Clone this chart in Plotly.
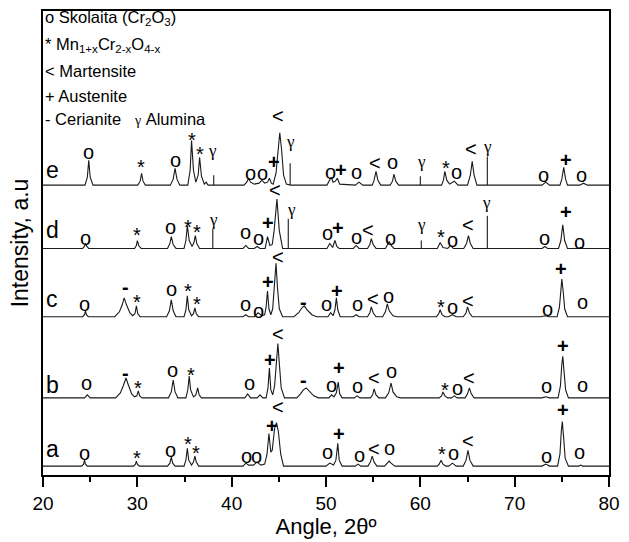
import plotly.graph_objects as go

# ---------------- data ----------------
# (2theta, intensity above own baseline) vertices of each pattern
PATTERN_E = [(20,0),(24.45,0),(24.7,8),(24.85,25),(25.0,8),(25.3,0),
    (30.05,0),(30.3,4),(30.45,12),(30.6,4),(30.85,0),
    (33.5,0),(33.8,6),(34.0,17),(34.2,6),(34.5,0),
    (35.35,0),(35.6,15),(35.75,45),(35.95,15),(36.2,3),(36.45,10),(36.6,28),(36.8,9),(37.1,1),(37.3,3),(37.5,0),
    (38.1,0),(38.1,10),(38.1,0),
    (41.3,0),(41.6,3),(41.8,7),(42.0,3),(42.4,1),(42.9,2),(43.2,5),(43.5,2),(43.8,3),(44.0,7),(44.2,2),(44.4,1),
    (44.7,12),(44.9,35),(45.1,53),(45.3,35),(45.5,10),(45.8,1),
    (46.2,0),(46.2,22),(46.2,0),
    (50.1,0),(50.4,6),(50.55,8),(50.75,3),(51.0,4),(51.2,7),(51.45,1),
    (53.1,0),(53.5,3),(53.9,0),
    (54.9,0),(55.1,5),(55.3,14),(55.5,5),(55.8,0),
    (56.8,0),(57.05,4),(57.2,11),(57.4,4),(57.7,0),
    (60.0,0),(60.0,9),(60.0,0),
    (62.25,0),(62.45,5),(62.6,14),(62.8,5),(63.1,1),(63.6,4),(64.0,0),
    (65.0,0),(65.3,10),(65.5,24),(65.7,10),(66.0,0),
    (67.1,0),(67.1,29),(67.1,0),
    (72.9,0),(73.3,3),(73.7,0),
    (74.8,0),(75.0,6),(75.2,18),(75.4,6),(75.6,0),
    (76.9,0),(77.3,2),(77.7,0),(80,0)]

PATTERN_D = [(20,0),(24.2,0),(24.4,2),(24.5,5),(24.65,2),(24.85,0),
    (29.7,0),(29.9,3),(30.0,8),(30.15,3),(30.4,0),
    (33.2,0),(33.45,5),(33.6,12),(33.8,4),(34.1,0),
    (34.95,0),(35.15,8),(35.3,23),(35.5,8),(35.8,2),(36.0,6),(36.15,13),(36.3,5),(36.6,0),
    (38.0,0),(38.0,20),(38.0,0),
    (41.2,0),(41.5,3),(41.8,0),(42.4,0),(42.7,2),(43.0,0),
    (43.55,0),(43.8,12),(44.05,3),(44.3,4),(44.5,18),(44.8,50),(45.05,18),(45.4,0),
    (46.0,0),(46.0,30),(46.0,0),
    (50.1,0),(50.4,5),(50.7,1),(50.95,8),(51.15,2),(51.4,0),
    (52.9,0),(53.2,3),(53.5,0),
    (54.4,0),(54.65,4),(54.8,10),(55.0,4),(55.3,0),
    (56.3,0),(56.5,3),(56.7,7),(56.9,3),(57.2,0),
    (60.1,0),(60.1,8),(60.1,0),
    (61.8,0),(62.1,6),(62.4,1),(62.9,0),(63.2,3),(63.5,0),
    (64.6,0),(64.9,5),(65.1,13),(65.3,5),(65.6,0),
    (67.1,0),(67.1,33),(67.1,0),
    (72.9,0),(73.2,2),(73.5,0),
    (74.65,0),(74.9,8),(75.1,24),(75.3,8),(75.6,0),
    (76.8,0),(77.0,1),(77.2,0),(80,0)]

PATTERN_C = [(20,0),(24.2,0),(24.4,2),(24.5,6),(24.6,2),(24.8,0),
    (27.6,0),(28.1,5),(28.4,12),(28.6,19),(28.85,12),(29.2,4),(29.5,1),(29.75,3),(29.9,11),(30.05,3),(30.3,0),
    (33.1,0),(33.4,6),(33.6,17),(33.8,6),(34.1,0),
    (34.95,0),(35.15,7),(35.3,21),(35.45,7),(35.75,1),(35.95,3),(36.1,9),(36.25,3),(36.5,0),
    (41.2,0),(41.5,2),(41.8,0),(42.4,0),(42.8,4),(43.2,1),
    (43.5,2),(43.65,10),(43.8,26),(43.95,8),(44.15,2),(44.35,8),(44.55,30),(44.7,54),(44.85,30),(45.05,8),(45.4,0),
    (46.6,0),(47.1,4),(47.45,9),(47.7,11),(48.0,7),(48.5,2),(49.0,0),
    (50.2,0),(50.5,4),(50.75,1),(50.95,7),(51.1,19),(51.25,7),(51.5,0),
    (52.9,0),(53.2,2),(53.5,0),
    (54.4,0),(54.65,4),(54.8,10),(55.0,4),(55.3,0),
    (56.0,0),(56.3,5),(56.5,13),(56.7,6),(57.1,1),(57.5,0),
    (61.7,0),(61.95,3),(62.1,7),(62.3,2),(62.6,0),(63.0,0),(63.4,2),(63.8,0),
    (64.55,0),(64.85,4),(65.0,10),(65.2,4),(65.5,0),
    (72.8,0),(73.2,1),(73.6,0),
    (74.5,0),(74.75,10),(74.9,30),(75.0,38),(75.15,25),(75.3,8),(75.6,0),(80,0)]

PATTERN_B = [(20,0),(24.4,0),(24.7,3),(25.0,0),
    (27.7,0),(28.2,5),(28.5,12),(28.8,20),(29.05,13),(29.4,4),(29.7,1),(29.95,2),(30.1,7),(30.25,2),(30.5,0),
    (33.3,0),(33.6,6),(33.8,18),(34.0,6),(34.3,0),
    (35.15,0),(35.35,8),(35.5,22),(35.65,8),(35.95,1),(36.2,3),(36.4,10),(36.55,3),(36.8,0),
    (41.4,0),(41.7,4),(42.0,0),(42.7,0),(43.0,3),(43.3,0),
    (43.65,0),(43.85,10),(44.0,30),(44.15,8),(44.35,3),(44.55,12),(44.75,35),(44.9,55),(45.05,35),(45.25,10),(45.6,0),
    (46.9,0),(47.3,4),(47.6,8),(47.9,10),(48.2,7),(48.7,2),(49.2,0),
    (50.3,0),(50.6,3),(50.85,1),(51.1,5),(51.3,16),(51.45,4),(51.7,0),
    (53.0,0),(53.3,2),(53.6,0),
    (54.7,0),(54.95,3),(55.1,9),(55.3,3),(55.6,0),
    (56.3,0),(56.65,5),(56.9,15),(57.1,6),(57.5,1),(57.9,0),
    (62.0,0),(62.25,2),(62.4,6),(62.6,2),(62.9,0),(63.3,0),(63.6,2),(63.9,0),
    (64.75,0),(65.0,4),(65.2,10),(65.4,4),(65.7,0),
    (72.9,0),(73.3,1),(73.7,0),
    (74.6,0),(74.85,12),(75.0,34),(75.1,42),(75.25,25),(75.4,8),(75.7,0),(80,0)]

PATTERN_A = [(20,0),(24.1,0),(24.3,2),(24.4,6),(24.5,2),(24.7,0),
    (29.6,0),(29.8,2),(29.9,5),(30.0,2),(30.2,0),
    (33.2,0),(33.45,3),(33.6,9),(33.75,3),(34.0,0),
    (34.95,0),(35.15,6),(35.3,18),(35.45,6),(35.75,1),(35.95,4),(36.1,10),(36.25,4),(36.5,0),
    (41.2,0),(41.5,3),(41.8,1),(42.3,1),(42.7,4),(43.1,1),
    (43.5,2),(43.75,12),(43.95,33),(44.15,14),(44.3,16),(44.55,38),(44.75,44),(44.95,35),(45.2,12),(45.5,0),
    (50.0,0),(50.4,3),(50.8,1),(51.05,6),(51.25,23),(51.4,6),(51.7,0),
    (53.1,0),(53.4,2),(53.7,0),
    (54.45,0),(54.7,4),(54.9,10),(55.1,4),(55.4,0),
    (56.2,0),(56.5,3),(56.7,5),(56.9,3),(57.3,0),
    (61.8,0),(62.0,2),(62.2,6),(62.4,2),(62.7,0),(63.0,0),(63.4,3),(63.8,0),
    (64.55,0),(64.85,6),(65.05,16),(65.25,6),(65.6,0),
    (72.9,0),(73.3,2),(73.7,0),
    (74.55,0),(74.8,12),(74.95,36),(75.05,45),(75.2,28),(75.35,8),(75.7,0),
    (76.8,0),(77.0,1),(77.2,0),(80,0)]

# phase markers: (2theta, height above own baseline, symbol)
MARKS_E = [(24.87,33,'o'),(30.39,23,'*'),(34.0,25,'o'),(35.76,51,'*'),(36.63,37,'*'),(37.93,33,'γ'),
    (41.97,12,'o'),(43.3,12,'o'),(44.5,23,'+'),(44.87,70,'<'),(46.28,42,'γ'),(50.49,13,'o'),
    (51.55,15,'+'),(53.2,13,'o'),(55.19,22,'<'),(57.05,23,'o'),(60.1,22,'γ'),(62.7,22,'*'),
    (63.82,13,'o'),(65.37,37,'<'),(67.12,37,'γ'),(73.08,10,'o'),(75.4,25,'+'),(77.05,10,'o')]
MARKS_D = [(24.53,11,'o'),(29.97,19,'*'),(33.55,22,'o'),(35.4,27,'*'),(36.35,22,'*'),(38.03,27,'γ'),
    (41.44,17,'o'),(42.84,11,'o'),(43.82,26,'+'),(44.6,59,'<'),(46.35,37,'γ'),(50.2,16,'o'),
    (51.26,21,'+'),(53.2,12,'o'),(54.5,19,'<'),(56.8,11,'o'),(60.1,22,'γ'),(62.2,17,'*'),
    (63.37,9,'o'),(65.05,24,'<'),(67.05,44,'γ'),(73.19,11,'o'),(75.47,37,'+'),(76.87,7,'o')]
MARKS_C = [(24.42,13,'o'),(28.74,30,'-'),(29.93,20,'*'),(33.6,28,'o'),(35.4,31,'*'),(36.28,18,'*'),
    (41.5,13,'o'),(42.84,6,'o'),(43.9,35,'+'),(44.87,60,'<'),(47.63,15,'-'),(50.03,13,'o'),
    (51.2,26,'+'),(53.3,13,'o'),(54.95,18,'<'),(56.6,21,'o'),(62.2,15,'*'),(63.37,10,'o'),
    (65.05,16,'<'),(73.44,8,'o'),(74.95,48,'+'),(77.16,15,'o')]
MARKS_B = [(24.6,15,'o'),(28.74,25,'-'),(30.1,15,'*'),(33.7,28,'o'),(35.65,28,'*'),(41.86,15,'o'),
    (44.07,38,'+'),(44.95,65,'<'),(47.58,18,'-'),(50.56,13,'o'),(51.33,30,'+'),(53.3,12,'o'),
    (55.05,20,'<'),(56.95,27,'o'),(62.6,13,'*'),(63.9,10,'o'),(65.2,20,'<'),(73.37,12,'o'),
    (75.1,52,'+'),(77.16,13,'o')]
MARKS_A = [(24.42,13,'o'),(29.97,13,'*'),(33.55,16,'o'),(35.4,27,'*'),(36.18,18,'*'),(41.6,10,'o'),
    (42.66,10,'o'),(44.25,41,'+'),(44.95,60,'<'),(50.2,14,'o'),(51.33,32,'+'),(53.55,11,'o'),
    (55.1,17,'<'),(56.7,18,'o'),(62.3,17,'*'),(63.55,13,'o'),(65.1,25,'<'),(73.37,10,'o'),
    (75.1,57,'+'),(76.87,14,'o')]

SAMPLE_NAMES = ['a', 'b', 'c', 'd', 'e']
NAME_HEIGHT = [17, 13, 18, 19, 15]
PATTERNS = [PATTERN_A, PATTERN_B, PATTERN_C, PATTERN_D, PATTERN_E]
MARKS = [MARKS_A, MARKS_B, MARKS_C, MARKS_D, MARKS_E]

LEGEND_LINES = ['o Skolaita (Cr<sub>2</sub>O<sub>3</sub>)',
                '* Mn<sub>1+x</sub>Cr<sub>2-x</sub>O<sub>4-x</sub>',
                '&lt; Martensite',
                '+ Austenite',
                "- Cerianite   <span style='font-family:Liberation Serif, serif;font-size:14px'>γ</span> Alumina"]

X_TICKS = [20, 30, 40, 50, 60, 70, 80]

# ---------------- styling / layout ----------------
OFFSETS = [9, 78, 160, 229, 293]   # stacking offset of each pattern
Y_MAX = 469
FONT = 'Arial, Liberation Sans, sans-serif'
SERIF = 'Liberation Serif, DejaVu Serif, serif'

fig = go.Figure()
annotations = []
for name, hname, pat, marks, off in zip(SAMPLE_NAMES, NAME_HEIGHT, PATTERNS, MARKS, OFFSETS):
    xs = [p[0] for p in pat]
    ys = [p[1] + off for p in pat]
    fig.add_trace(go.Scatter(x=xs, y=ys, mode='lines', name=name,
                             line=dict(color='#1a1a1a', width=1.1), showlegend=False,
                             hoverinfo='skip'))
    annotations.append(dict(x=20.15, y=off + hname, text=name, showarrow=False,
                            xanchor='left', yanchor='middle',
                            font=dict(family=FONT, size=23, color='black')))
    for mx, mh, sym in marks:
        txt = '&lt;' if sym == '<' else sym
        fam, size, ysh = FONT, 20, 0
        if sym == '*':
            size, ysh = 20, -5
        if sym == 'γ':
            fam, size, ysh = SERIF, 17, 2
        if sym in ('+', '-'):
            txt = '<b>' + txt + '</b>'
        annotations.append(dict(x=mx, y=off + mh, text=txt, showarrow=False,
                                xanchor='center', yanchor='middle', yshift=ysh,
                                font=dict(family=fam, size=size, color='black')))

LEGEND_Y = [462, 435, 408, 383, 360]
for line, ly in zip(LEGEND_LINES, LEGEND_Y):
    annotations.append(dict(x=20, y=ly, text=line, showarrow=False, xanchor='left',
                            yanchor='middle', xshift=0,
                            font=dict(family=FONT, size=16.5, color='black')))

fig.update_layout(
    width=629, height=542,
    margin=dict(l=43, r=16, t=9, b=64),
    paper_bgcolor='white', plot_bgcolor='white',
    annotations=annotations,
    font=dict(family=FONT, color='black'),
    xaxis=dict(range=[20, 80], tickvals=X_TICKS, ticks='outside', ticklen=10, tickwidth=1.5,
               tickcolor='black', showline=True, linewidth=2, linecolor='black', mirror=True,
               showgrid=False, zeroline=False,
               minor=dict(dtick=5, ticks='outside', ticklen=5, tickwidth=1.5, tickcolor='black'),
               tickfont=dict(family=FONT, size=19, color='black'),
               title=dict(text='Angle, 2θº', font=dict(family=FONT, size=22, color='black'), standoff=4)),
    yaxis=dict(range=[0, Y_MAX], showticklabels=False, ticks='', showline=True, linewidth=1.5,
               linecolor='black', mirror=True, showgrid=False, zeroline=False,
               title=dict(text='Intensity, a.u', font=dict(family=FONT, size=23, color='black'), standoff=6)),
)

fig.write_html('out.html')
